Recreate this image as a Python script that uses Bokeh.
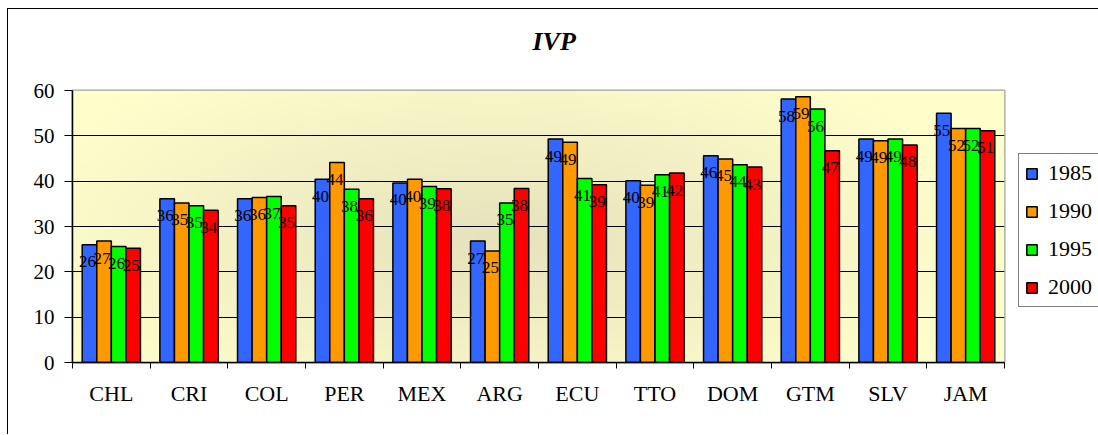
import numpy as np
from bokeh.plotting import figure
from bokeh.models import (ColumnDataSource, FixedTicker, Legend, LegendItem, Title)
from bokeh.core.properties import value
from bokeh.embed import file_html
from bokeh.resources import INLINE

# ---- data ----
categories = ["CHL", "CRI", "COL", "PER", "MEX", "ARG", "ECU", "TTO", "DOM", "GTM", "SLV", "JAM"]
series_names = ["1985", "1990", "1995", "2000"]
v1985 = [26.0, 36.1, 36.1, 40.4, 39.6, 26.8, 49.3, 40.1, 45.6, 58.1, 49.3, 55.0]
v1990 = [26.8, 35.2, 36.4, 44.1, 40.4, 24.6, 48.6, 39.1, 44.9, 58.6, 48.9, 51.6]
v1995 = [25.6, 34.6, 36.6, 38.2, 38.8, 35.2, 40.6, 41.4, 43.6, 55.9, 49.3, 51.6]
v2000 = [25.2, 33.6, 34.6, 36.1, 38.3, 38.4, 39.2, 41.8, 43.1, 46.7, 48.0, 51.1]
series_values = [v1985, v1990, v1995, v2000]
colors = ["#3366FF", "#FF9900", "#00FF00", "#FF0000"]
y_ticks = [0, 10, 20, 30, 40, 50, 60]

SERIF = "Liberation Serif"
n = len(categories)
bar_w = 0.1875
offsets = [-1.5 * bar_w, -0.5 * bar_w, 0.5 * bar_w, 1.5 * bar_w]

p = figure(width=1089, height=425, frame_width=932, frame_height=272,
           x_range=(0, n), y_range=(0, 60),
           output_backend="svg", toolbar_location=None,
           min_border_left=64, min_border_right=93, min_border_top=81, min_border_bottom=72)
p.title = None
p.styles = {"margin-left": "7px", "margin-top": "8px",
            "border-left": "1.5px solid black", "border-top": "1.5px solid black"}
p.background_fill_color = "#FFFFCC"
p.border_fill_color = "white"
p.outline_line_color = "#A0A0A0"
p.outline_line_width = 2

# gradient background (decoration)
H, W = 60, 120
yy, xx = np.mgrid[0:H, 0:W]
cx, cy = W * 0.45, H * 0.45
d = np.sqrt(((xx - cx) / (W * 0.55)) ** 2 + ((yy - cy) / (H * 0.75)) ** 2)
t = np.clip(d, 0, 1)
c_in = np.array([0xE6, 0xE2, 0xBC])
c_out = np.array([0xFF, 0xFF, 0xCC])
rgb = (c_in[None, None, :] * (1 - t[..., None]) + c_out[None, None, :] * t[..., None]).astype(np.uint32)
img = np.empty((H, W), dtype=np.uint32)
view = img.view(dtype=np.uint8).reshape((H, W, 4))
view[..., 0] = rgb[..., 0]
view[..., 1] = rgb[..., 1]
view[..., 2] = rgb[..., 2]
view[..., 3] = 255
p.image_rgba(image=[img], x=0, y=0, dw=n, dh=60, level="image")

items = []
for j, (name, vals) in enumerate(zip(series_names, series_values)):
    xs = [i + 0.5 + offsets[j] for i in range(n)]
    src = ColumnDataSource(dict(x=xs, top=vals, lab=[f"{v:.0f}" for v in vals]))
    r = p.vbar(x="x", top="top", width=bar_w, source=src, fill_color=colors[j],
               line_color="black", line_width=1.5)
    p.text(x="x", y="top", text="lab", source=src, text_font=value(SERIF),
           text_font_size="17px", text_color="black", text_align="center",
           text_baseline="middle", x_offset=-2, y_offset=17)
    items.append(LegendItem(label=name, renderers=[r]))

legend = Legend(items=items, location=(14, 55), margin=0, padding=6,
                glyph_width=13, glyph_height=13, label_height=22, spacing=12,
                label_standoff=10, label_text_font=SERIF, label_text_font_size="22px",
                label_text_color="black",
                border_line_color="black", border_line_width=1, background_fill_color="white",
                background_fill_alpha=1.0)
p.add_layout(legend, "right")

# axes
p.yaxis.ticker = FixedTicker(ticks=y_ticks)
p.yaxis.major_label_text_font = SERIF
p.yaxis.major_label_text_font_size = "21px"
p.yaxis.major_label_text_color = "black"
p.yaxis.major_tick_out = 8
p.yaxis.major_tick_in = 0
p.yaxis.minor_tick_out = 0
p.yaxis.major_tick_line_color = "black"
p.yaxis.major_label_standoff = 10
p.yaxis.axis_line_color = "black"
p.yaxis.axis_line_width = 1.5

centers = [i + 0.5 for i in range(n)]
p.xaxis.ticker = FixedTicker(ticks=centers, minor_ticks=list(range(n + 1)))
p.xaxis.major_label_overrides = {c: cat for c, cat in zip(centers, categories)}
p.xaxis.major_tick_out = 0
p.xaxis.major_tick_in = 0
p.xaxis.minor_tick_out = 6
p.xaxis.minor_tick_in = 0
p.xaxis.minor_tick_line_color = "black"
p.xaxis.major_label_standoff = 12
p.xaxis.major_label_text_font = SERIF
p.xaxis.major_label_text_font_size = "22px"
p.xaxis.major_label_text_color = "black"
p.xaxis.axis_line_color = "black"
p.xaxis.axis_line_width = 1.5

p.xgrid.grid_line_color = None
p.ygrid.ticker = FixedTicker(ticks=y_ticks)
p.ygrid.grid_line_color = "black"
p.ygrid.grid_line_width = 1

# spacer title (closest to the frame), then the real title above it
p.add_layout(Title(text=" ", text_font_size="1px", standoff=32), "above")
p.add_layout(Title(text="IVP", align="left", text_font=SERIF, text_font_style="bold italic",
                   text_font_size="26px", text_color="black", offset=460, standoff=0),
             "above")

open("out.html", "w").write(file_html(p, INLINE))
